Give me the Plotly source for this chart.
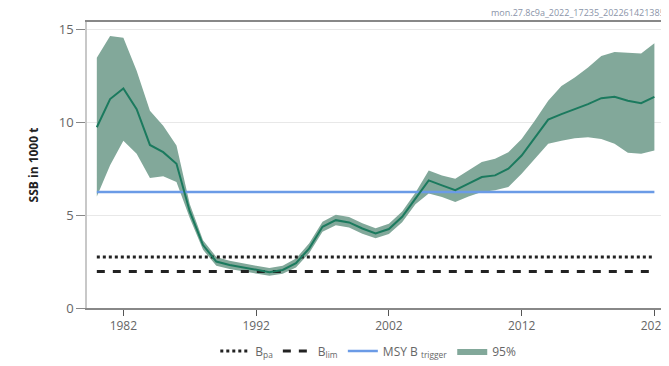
import plotly.graph_objects as go

# assessment years
years = list(range(1980, 2023))

# SSB (1000 t), median and 95% interval
ssb = [9.73, 11.25, 11.82, 10.71, 8.78, 8.39, 7.77, 5.2, 3.39, 2.5,
       2.32, 2.18, 2.05, 1.93, 2.05, 2.41, 3.21, 4.37, 4.73, 4.61,
       4.28, 4.02, 4.25, 4.91, 5.89, 6.87, 6.6, 6.34, 6.7, 7.05,
       7.14, 7.5, 8.21, 9.2, 10.14, 10.44, 10.71, 10.98, 11.3, 11.37,
       11.16, 11.03, 11.37]
ssb_high = [13.48, 14.64, 14.55, 12.77, 10.62, 9.82, 8.75, 5.6, 3.65, 2.75,
            2.55, 2.4, 2.27, 2.15, 2.28, 2.66, 3.48, 4.65, 5.02, 4.9,
            4.57, 4.3, 4.53, 5.2, 6.2, 7.41, 7.14, 6.96, 7.41, 7.86,
            8.03, 8.39, 9.1, 10.09, 11.16, 11.96, 12.41, 12.95, 13.57, 13.78,
            13.75, 13.71, 14.25]
ssb_low = [6.0, 7.68, 9.01, 8.3, 7.0, 7.09, 6.79, 4.85, 3.14, 2.27,
           2.1, 1.97, 1.85, 1.73, 1.84, 2.18, 2.96, 4.1, 4.45, 4.33,
           4.0, 3.75, 3.98, 4.62, 5.58, 6.16, 5.98, 5.71, 6.0, 6.25,
           6.34, 6.52, 7.23, 8.03, 8.84, 9.01, 9.14, 9.2, 9.1, 8.84,
           8.36, 8.3, 8.48]

# reference points
b_pa = 2.75
b_lim = 1.96
msy_btrigger = 6.25

band_col = '#82a89a'
line_col = '#1b7a5e'
grey = '#666666'

fig = go.Figure()

# 95% band
fig.add_trace(go.Scatter(x=years, y=ssb_high, mode='lines', line={'width': 0, 'color': band_col},
                         showlegend=False, hoverinfo='skip'))
fig.add_trace(go.Scatter(x=years, y=ssb_low, mode='lines', line={'width': 0, 'color': band_col},
                         fill='tonexty', fillcolor=band_col, name='95%', legendrank=4))

# reference lines
fig.add_trace(go.Scatter(x=[years[0], years[-1]], y=[msy_btrigger] * 2, mode='lines',
                         line={'color': '#6b9be6', 'width': 2.5},
                         name='MSY B <sub>trigger</sub>', legendrank=3))
fig.add_trace(go.Scatter(x=[years[0], years[-1]], y=[b_pa] * 2, mode='lines',
                         line={'color': '#222222', 'width': 3, 'dash': 'dot'},
                         name='B<sub>pa</sub>', legendrank=1))
fig.add_trace(go.Scatter(x=[years[0], years[-1]], y=[b_lim] * 2, mode='lines',
                         line={'color': '#222222', 'width': 3, 'dash': '8px,8px'},
                         name='B<sub>lim</sub>', legendrank=2))

# median SSB
fig.add_trace(go.Scatter(x=years, y=ssb, mode='lines', line={'color': line_col, 'width': 2},
                         showlegend=False))

fig.add_annotation(text='mon.27.8c9a_2022_17235_202261421385', xref='paper', yref='paper',
                   x=1.0, y=1.0, xanchor='right', yanchor='bottom', yshift=1, showarrow=False,
                   font={'size': 9, 'color': '#8a94a8'})

# page has an 8px body margin, so the figure is sized to fit the window from there
fig.update_layout(
    width=661, height=358,
    margin={'l': 79, 'r': 0, 't': 14, 'b': 56},
    paper_bgcolor='white', plot_bgcolor='white',
    font={'family': 'Open Sans', 'size': 12, 'color': grey},
    xaxis={'range': [1979.26, 2022.95], 'tickvals': [1982, 1992, 2002, 2012, 2022],
           'ticks': 'outside', 'ticklen': 6, 'tickcolor': '#555', 'showgrid': False,
           'showline': True, 'linecolor': '#888', 'linewidth': 2, 'mirror': True,
           'zeroline': False, 'tickfont': {'size': 12, 'color': grey}},
    yaxis={'range': [0, 15.4], 'tickvals': [0, 5, 10, 15],
           'ticks': 'outside', 'ticklen': 9, 'tickcolor': '#888',
           'showgrid': True, 'gridcolor': '#e8e8e8', 'gridwidth': 1,
           'showline': True, 'linecolor': '#c8c8c8', 'linewidth': 1.5, 'mirror': True,
           'zeroline': False, 'tickfont': {'size': 13, 'color': grey},
           'title': {'text': '<b>SSB in 1000 t</b>', 'font': {'size': 12, 'color': '#222'}, 'standoff': 18}},
    legend={'orientation': 'h', 'traceorder': 'normal', 'x': 0.485, 'xanchor': 'center',
            'y': -0.1, 'yanchor': 'top', 'font': {'size': 12, 'color': grey},
            'itemwidth': 30, 'bgcolor': 'rgba(0,0,0,0)'},
    showlegend=True,
)

fig.write_html("out.html")
